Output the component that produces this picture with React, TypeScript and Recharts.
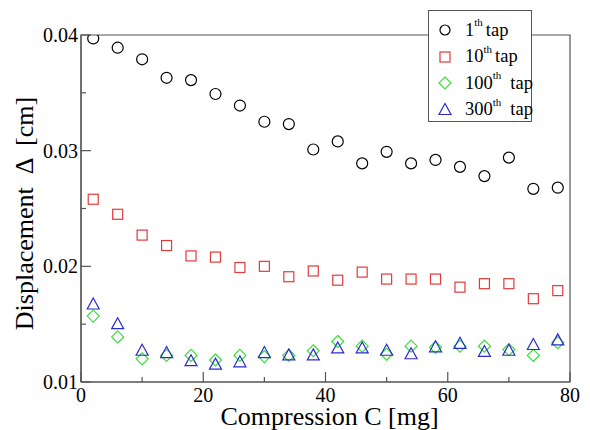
import React from 'react';
import { ScatterChart, Scatter, XAxis, YAxis, ReferenceArea } from 'recharts';

const compression = [2, 6, 10, 14, 18, 22, 26, 30, 34, 38, 42, 46, 50, 54, 58, 62, 66, 70, 74, 78];
const tap1 = [0.0397, 0.0389, 0.0379, 0.0363, 0.0361, 0.0349, 0.0339, 0.0325, 0.0323, 0.0301, 0.0308, 0.0289, 0.0299, 0.0289, 0.0292, 0.0286, 0.0278, 0.0294, 0.0267, 0.0268];
const tap10 = [0.0258, 0.0245, 0.0227, 0.0218, 0.0209, 0.0208, 0.0199, 0.0200, 0.0191, 0.0196, 0.0188, 0.0195, 0.0189, 0.0189, 0.0189, 0.0182, 0.0185, 0.0185, 0.0172, 0.0179];
const tap100 = [0.0157, 0.0139, 0.0120, 0.0123, 0.0123, 0.0119, 0.0123, 0.0122, 0.0123, 0.0127, 0.0135, 0.0131, 0.0124, 0.0131, 0.0130, 0.0131, 0.0131, 0.0128, 0.0123, 0.0134];
const tap300 = [0.0167, 0.0150, 0.0127, 0.0125, 0.0118, 0.0115, 0.0117, 0.0125, 0.0123, 0.0123, 0.0129, 0.0129, 0.0127, 0.0124, 0.0130, 0.0133, 0.0126, 0.0127, 0.0132, 0.0136];

const xTicks = [0, 10, 20, 30, 40, 50, 60, 70, 80];
const xMajor = [0, 20, 40, 60, 80];
const yTicks = [0.01, 0.015, 0.02, 0.025, 0.03, 0.035, 0.04];
const yMajor = ['0.01', '0.02', '0.03', '0.04'];

const seriesNames = ['1', '10', '100', '300'];
const seriesColors = ['#000000', '#e23a3a', '#3ddc3d', '#2b2bd0'];

const toPoints = (vals: number[]) => compression.map((c, i) => ({ x: c, y: vals[i] }));

const FONT = '"Liberation Serif", "Times New Roman", serif';
const FRAME = '#555555';

const Circle = (p: any) => <circle cx={p.cx} cy={p.cy} r={5.5} fill="none" stroke={seriesColors[0]} strokeWidth={1.2} />;
const Square = (p: any) => <rect x={p.cx - 5} y={p.cy - 5} width={10} height={10} fill="none" stroke={seriesColors[1]} strokeWidth={1.2} />;
const Diamond = (p: any) => (
  <polygon points={`${p.cx},${p.cy - 6} ${p.cx + 6},${p.cy} ${p.cx},${p.cy + 6} ${p.cx - 6},${p.cy}`} fill="none" stroke={seriesColors[2]} strokeWidth={1.2} />
);
const Triangle = (p: any) => (
  <polygon points={`${p.cx},${p.cy - 6.5} ${p.cx + 6},${p.cy + 4.5} ${p.cx - 6},${p.cy + 4.5}`} fill="none" stroke={seriesColors[3]} strokeWidth={1.2} />
);

const YTick = (props: any) => {
  const { x, y, payload } = props;
  const label = Number(payload.value).toFixed(2);
  const major = yMajor.includes(label) && Math.abs(payload.value * 100 - Math.round(payload.value * 100)) < 1e-6;
  return (
    <g>
      <line x1={x} y1={y} x2={x + (major ? 10 : 5)} y2={y} stroke={FRAME} strokeWidth={1.2} />
      {major && (
        <text x={x - 3} y={y + 7} textAnchor="end" fontSize={20} fontFamily={FONT} fill="#000">
          {label}
        </text>
      )}
    </g>
  );
};

const XTick = (props: any) => {
  const { x, y, payload } = props;
  const major = xMajor.includes(payload.value);
  return (
    <g>
      <line x1={x} y1={y} x2={x} y2={y - (major ? 10 : 5)} stroke={FRAME} strokeWidth={1.2} />
      {major && (
        <text x={x} y={y + 20} textAnchor="middle" fontSize={20} fontFamily={FONT} fill="#000">
          {payload.value}
        </text>
      )}
    </g>
  );
};

const YLabel = (props: any) => {
  const vb = props.viewBox;
  const cx = vb.x + 24;
  const cy = vb.y + vb.height / 2 + 5;
  return (
    <text x={cx} y={cy} transform={`rotate(-90, ${cx}, ${cy})`} textAnchor="middle" dominantBaseline="central" fontSize={26} fontFamily={FONT} fill="#000" style={{ whiteSpace: 'pre' }}>
      {'Displacement  \u0394  [cm]'}
    </text>
  );
};

const XLabel = (props: any) => {
  const vb = props.viewBox;
  return (
    <text x={vb.x + vb.width / 2 + 4} y={vb.y + 43} textAnchor="middle" fontSize={26} fontFamily={FONT} fill="#000">
      Compression C [mg]
    </text>
  );
};

const LegendSymbol = ({ i }: { i: number }) => {
  const c = 9;
  const col = seriesColors[i];
  if (i === 0) return <circle cx={c} cy={c} r={5} fill="none" stroke={col} strokeWidth={1.2} />;
  if (i === 1) return <rect x={c - 5} y={c - 5} width={10} height={10} fill="none" stroke={col} strokeWidth={1.2} />;
  if (i === 2) return <polygon points={`${c},${c - 6} ${c + 6},${c} ${c},${c + 6} ${c - 6},${c}`} fill="none" stroke={col} strokeWidth={1.2} />;
  return <polygon points={`${c},${c - 6.5} ${c + 6},${c + 4.5} ${c - 6},${c + 4.5}`} fill="none" stroke={col} strokeWidth={1.2} />;
};

const LegendBox = () => (
  <div
    style={{
      position: 'absolute',
      left: 428,
      top: 10,
      width: 102,
      height: 110,
      background: '#fff',
      border: `1.2px solid ${FRAME}`,
      fontFamily: FONT,
      fontSize: 18.5,
      color: '#000',
    }}
  >
    {seriesNames.map((n, i) => (
      <div key={n} style={{ position: 'absolute', left: 7, top: 9 + i * 26.5, height: 20, display: 'flex', alignItems: 'center', whiteSpace: 'pre' }}>
        <svg width={18} height={18} style={{ marginRight: 11 }}>
          <LegendSymbol i={i} />
        </svg>
        <span>{n}</span>
        <span style={{ fontSize: 11, alignSelf: 'flex-start', marginTop: -4 }}>th</span>
        <span style={{ marginLeft: i >= 2 ? 9 : 3 }}>tap</span>
      </div>
    ))}
  </div>
);

export default function App() {
  return (
    <div style={{ position: 'absolute', left: 0, top: 0, width: 590, height: 430, background: '#fff' }}>
      <ScatterChart width={590} height={430} margin={{ top: 35, right: 20, bottom: 0, left: 0 }}>
        <XAxis
          type="number"
          dataKey="x"
          domain={[0, 80]}
          ticks={xTicks}
          interval={0}
          tick={<XTick />}
          tickLine={false}
          tickSize={0}
          tickMargin={0}
          axisLine={{ stroke: FRAME, strokeWidth: 1.2 }}
          height={48}
          allowDataOverflow
          label={<XLabel />}
        />
        <YAxis
          type="number"
          dataKey="y"
          domain={[0.01, 0.04]}
          ticks={yTicks}
          interval={0}
          tick={<YTick />}
          tickLine={false}
          tickSize={0}
          tickMargin={0}
          axisLine={{ stroke: FRAME, strokeWidth: 1.2 }}
          width={81}
          allowDataOverflow
          label={<YLabel />}
        />
        <ReferenceArea x1={0} x2={80} y1={0.01} y2={0.04} fill="none" fillOpacity={0} stroke={FRAME} strokeWidth={1.2} ifOverflow="visible" />
        <Scatter name="1th tap" data={toPoints(tap1)} shape={<Circle />} isAnimationActive={false} />
        <Scatter name="10th tap" data={toPoints(tap10)} shape={<Square />} isAnimationActive={false} />
        <Scatter name="100th tap" data={toPoints(tap100)} shape={<Diamond />} isAnimationActive={false} />
        <Scatter name="300th tap" data={toPoints(tap300)} shape={<Triangle />} isAnimationActive={false} />
      </ScatterChart>
      <LegendBox />
    </div>
  );
}
